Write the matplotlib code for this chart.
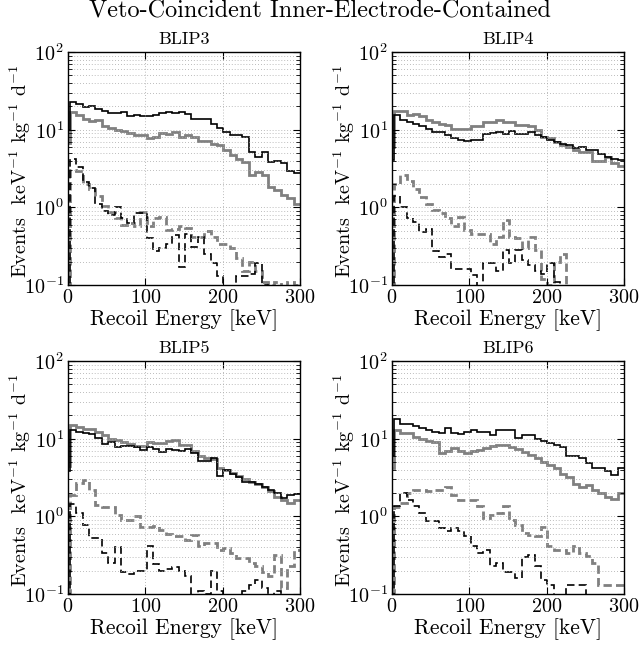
import numpy as np
import matplotlib.pyplot as plt

plt.rcParams['font.family'] = 'cmr10'
plt.rcParams['mathtext.fontset'] = 'cm'
plt.rcParams['axes.formatter.use_mathtext'] = True
plt.rcParams['axes.unicode_minus'] = False

# bin edges in keV: a short first bin, then 36 equal bins up to 300
edges = np.concatenate([[0], np.linspace(2.5, 300, 37)])

# BLIP3
b3_black = [10, 22.4, 21.3, 19.6, 20.0, 18.3, 17.3, 16.6, 16.2, 16.9, 15.0, 15.5, 15.0,
            14.8, 15.5, 16.5, 17.0, 16.3, 17.0, 15.7, 13.6, 13.6, 13.6, 12.0, 10.5, 9.3,
            8.5, 8.5, 8.1, 5.2, 4.5, 5.1, 3.8, 4.0, 3.7, 2.9, 2.8]
b3_gray = [6.8, 17, 15.3, 13.9, 13.0, 13.5, 11.0, 10.6, 10.0, 9.7, 9.1, 8.5, 8.5, 7.7,
           8.1, 9.1, 8.8, 9.4, 8.1, 8.5, 8.1, 7.2, 7.2, 6.6, 6.3, 5.45, 4.7, 4.25, 3.86,
           2.6, 2.87, 2.6, 1.84, 1.67, 1.44, 1.30, 1.12]
b3_black_dash = [0.01, 4.25, 3.26, 2.13, 1.75, 1.12, 0.90, 0.80, 1.02, 0.72, 0.62, 0.84,
                 0.84, 0.40, 0.27, 0.30, 0.34, 0.44, 0.17, 0.46, 0.31, 0.42, 0.25, 0.19,
                 0.13, 0.09, 0.06, 0.13, 0.13, 0.14, 0.19, 0.10, 0.05, 0.05, 0.05, 0.05, 0.05]
b3_gray_dash = [0.01, 3.0, 2.9, 2.0, 1.7, 1.4, 1.05, 0.88, 0.72, 0.6, 0.62, 0.57, 0.88,
                0.57, 0.72, 0.75, 0.51, 0.52, 0.57, 0.54, 0.42, 0.42, 0.50, 0.42, 0.34,
                0.34, 0.30, 0.22, 0.15, 0.20, 0.15, 0.11, 0.10, 0.11, 0.09, 0.11, 0.10]

# BLIP4
b4_black = [4.05, 15.3, 13.5, 12.6, 12.0, 11.1, 10.3, 9.4, 9.2, 8.5, 7.9, 7.3, 7.1, 7.3,
            7.3, 8.9, 9.1, 9.4, 8.9, 9.6, 8.7, 8.7, 9.3, 8.5, 8.1, 7.3, 7.0, 6.6, 6.3,
            5.75, 5.9, 5.4, 5.5, 4.9, 4.5, 4.2, 4.1]
b4_gray = [6.0, 17.2, 17.4, 15.3, 16.1, 14.8, 13.5, 12.6, 12.0, 11.4, 10.3, 10.3, 10.3,
           11.1, 11.1, 12.6, 12.6, 13.2, 12.6, 12.6, 11.6, 11.6, 11.0, 10.0, 8.1, 7.7,
           7.0, 6.3, 5.9, 5.5, 5.1, 5.1, 3.9, 3.9, 4.4, 3.7, 3.4]
b4_black_dash = [0.01, 1.4, 1.0, 0.72, 0.65, 0.48, 0.53, 0.27, 0.23, 0.25, 0.16, 0.16,
                 0.16, 0.135, 0.06, 0.19, 0.19, 0.15, 0.28, 0.19, 0.28, 0.21, 0.18, 0.15,
                 0.14, 0.19, 0.11, 0.05, 0.05, 0.05, 0.05, 0.05, 0.05, 0.05, 0.05, 0.05, 0.05]
b4_gray_dash = [0.01, 2.0, 2.6, 2.2, 1.7, 1.35, 1.1, 0.92, 0.84, 0.72, 0.57, 0.75, 0.51,
                0.46, 0.46, 0.45, 0.34, 0.42, 0.69, 0.42, 0.40, 0.30, 0.42, 0.28, 0.12,
                0.10, 0.20, 0.25, 0.05, 0.05, 0.05, 0.05, 0.05, 0.05, 0.05, 0.05, 0.05]

# BLIP5
b5_black = [3.8, 13.0, 12.3, 12.0, 11.6, 10.3, 8.5, 9.1, 7.9, 8.1, 8.1, 7.7, 7.1, 7.9,
            7.3, 6.8, 7.3, 7.1, 7.0, 7.3, 6.6, 5.1, 5.1, 5.6, 3.3, 3.9, 3.5, 3.2, 2.8,
            2.8, 2.6, 2.4, 2.2, 2.0, 1.7, 1.9, 1.95]
b5_gray = [4.5, 15.0, 14.1, 13.5, 13.2, 12.3, 11.3, 10.0, 9.6, 9.0, 8.6, 8.1, 8.1, 9.0,
           8.8, 8.8, 9.3, 9.6, 8.4, 8.4, 6.9, 5.9, 5.6, 5.4, 4.2, 3.9, 3.6, 3.3, 3.0,
           2.8, 2.6, 2.4, 2.1, 1.8, 1.6, 1.5, 1.6]
b5_black_dash = [0.01, 1.45, 1.1, 0.78, 0.53, 0.53, 0.34, 0.25, 0.40, 0.19, 0.18, 0.20,
                 0.20, 0.42, 0.24, 0.20, 0.21, 0.22, 0.20, 0.17, 0.09, 0.11, 0.10, 0.20,
                 0.11, 0.07, 0.05, 0.09, 0.11, 0.13, 0.15, 0.12, 0.08, 0.11, 0.05, 0.05, 0.05]
b5_gray_dash = [0.01, 1.9, 2.7, 2.9, 2.2, 1.4, 1.3, 1.3, 1.05, 0.9, 0.9, 1.0, 0.72, 0.72,
                0.75, 0.67, 0.60, 0.56, 0.55, 0.50, 0.58, 0.42, 0.45, 0.45, 0.37, 0.39,
                0.34, 0.29, 0.29, 0.25, 0.23, 0.19, 0.17, 0.32, 0.12, 0.23, 0.37]

# BLIP6
b6_black = [6.0, 17.8, 15.5, 15.5, 14.5, 13.9, 13.0, 12.3, 11.9, 13.9, 11.7, 11.5, 12.3,
            13.0, 12.3, 12.3, 11.2, 12.8, 13.0, 13.0, 10.1, 11.2, 11.0, 9.9, 9.3, 8.9,
            8.3, 7.9, 6.0, 6.0, 5.6, 4.8, 4.2, 4.2, 3.8, 3.4, 4.2]
b6_gray = [4.2, 13.0, 11.8, 11.8, 10.6, 9.8, 9.3, 9.0, 6.6, 7.0, 7.5, 7.0, 6.6, 7.0, 7.2,
           7.5, 8.0, 8.3, 8.3, 7.8, 7.3, 6.8, 6.2, 5.6, 5.0, 4.6, 4.2, 3.5, 3.2, 2.6,
           2.4, 2.5, 2.2, 2.0, 1.8, 1.65, 2.0]
b6_black_dash = [0.01, 1.35, 2.0, 1.6, 1.34, 1.1, 0.86, 0.86, 0.71, 0.65, 0.70, 0.65,
                 0.56, 0.41, 0.34, 0.37, 0.23, 0.25, 0.19, 0.19, 0.16, 0.30, 0.32, 0.23,
                 0.15, 0.13, 0.07, 0.07, 0.13, 0.13, 0.13, 0.05, 0.05, 0.05, 0.05, 0.05, 0.05]
b6_gray_dash = [0.01, 1.3, 1.5, 2.0, 2.2, 2.2, 2.1, 2.2, 2.2, 2.4, 1.9, 1.6, 1.6, 1.6,
                1.34, 0.96, 1.05, 1.1, 1.34, 0.91, 0.78, 0.61, 0.58, 0.55, 0.72, 0.41,
                0.37, 0.37, 0.34, 0.41, 0.34, 0.31, 0.25, 0.13, 0.13, 0.13, 0.13]

panels = [('BLIP3', b3_black, b3_gray, b3_black_dash, b3_gray_dash),
          ('BLIP4', b4_black, b4_gray, b4_black_dash, b4_gray_dash),
          ('BLIP5', b5_black, b5_gray, b5_black_dash, b5_gray_dash),
          ('BLIP6', b6_black, b6_gray, b6_black_dash, b6_gray_dash)]

W, H = 639, 646
boxes = [(68, 52), (392, 52), (68, 361), (392, 361)]  # left, top in pixels
aw, ah = 232, 233

fig = plt.figure(figsize=(W / 100, H / 100), dpi=100)

for (name, blk, gry, blkd, gryd), (l, t) in zip(panels, boxes):
    ax = fig.add_axes([l / W, 1 - (t + ah) / H, aw / W, ah / H])
    ax.stairs(gry, edges, baseline=None, color='0.5', lw=2.0)
    ax.stairs(blk, edges, baseline=None, color='k', lw=1.2)
    ax.stairs(gryd, edges, baseline=None, color='0.5', lw=2.0, ls=(0, (3, 1.5)))
    ax.stairs(blkd, edges, baseline=None, color='k', lw=1.2, ls=(0, (4.5, 2.5)))
    ax.set_yscale('log')
    ax.set_xlim(0, 300)
    ax.set_ylim(0.1, 100)
    ax.set_xticks([0, 100, 200, 300])
    ax.grid(True, axis='x', which='major', ls=(0, (1, 2.5)), color='0.65', lw=0.6)
    ax.grid(True, axis='y', which='both', ls=(0, (1, 2.5)), color='0.65', lw=0.6)
    ax.tick_params(which='both', direction='in', top=True, right=True)
    ax.tick_params(which='major', length=5, labelsize=14.5, pad=3)
    ax.tick_params(which='minor', length=3)
    for s in ax.spines.values():
        s.set_linewidth(1.0)
    ax.set_title(name, fontsize=13, pad=6)
    ax.set_xlabel('Recoil Energy [keV]', fontsize=15.5, labelpad=1.5)
    ax.set_ylabel(r'Events  keV$^{-1}$ kg$^{-1}$ d$^{-1}$', fontsize=14.5)
    ax.yaxis.set_label_coords(-0.15, 0.49)

fig.text(0.5, 0.983, 'Veto-Coincident Inner-Electrode-Contained', ha='center',
         va='center', fontsize=17.5)

fig.savefig('out.png', dpi=100)
